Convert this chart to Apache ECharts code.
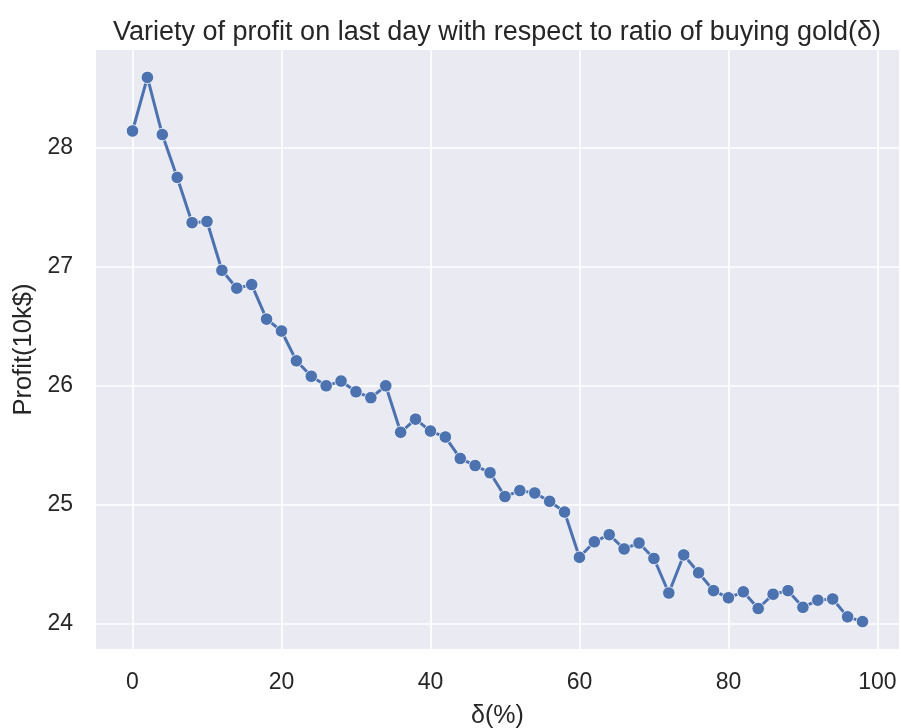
<!DOCTYPE html>
<html>
<head>
<meta charset="utf-8">
<script src="https://cdn.jsdelivr.net/npm/echarts@6/dist/echarts.min.js"></script>
<style>
  html, body { margin: 0; padding: 0; background: #fff; }
  #chart { width: 901px; height: 728px; }
</style>
</head>
<body>
<div id="chart"></div>
<script>
const deltaPct = [0, 2, 4, 6, 8, 10, 12, 14, 16, 18, 20, 22, 24, 26, 28, 30, 32, 34, 36, 38,
  40, 42, 44, 46, 48, 50, 52, 54, 56, 58, 60, 62, 64, 66, 68, 70, 72, 74, 76, 78,
  80, 82, 84, 86, 88, 90, 92, 94, 96, 98];
const profit = [28.14, 28.59, 28.11, 27.75, 27.37, 27.38, 26.97, 26.82, 26.85, 26.56,
  26.46, 26.21, 26.08, 26.00, 26.04, 25.95, 25.90, 26.00, 25.61, 25.72,
  25.62, 25.57, 25.39, 25.33, 25.27, 25.07, 25.12, 25.10, 25.03, 24.94,
  24.56, 24.69, 24.75, 24.63, 24.68, 24.55, 24.26, 24.58, 24.43, 24.28,
  24.22, 24.27, 24.13, 24.25, 24.28, 24.14, 24.20, 24.21, 24.06, 24.02];
const xTicks = [0, 20, 40, 60, 80, 100];
const yTicks = [24, 25, 26, 27, 28];

const FONT = "Liberation Sans, Arial, sans-serif";
const TEXT = "#262626";

const chart = echarts.init(document.getElementById("chart"));

chart.setOption({
  animation: false,
  backgroundColor: "#ffffff",
  title: {
    text: "Variety of profit on last day with respect to ratio of buying gold(δ)",
    left: 492, top: 14, textAlign: "center",
    textStyle: { fontFamily: FONT, fontSize: 27, fontWeight: "normal", color: TEXT }
  },
  grid: {
    left: 96, right: 2, top: 50, bottom: 79,
    outerBoundsMode: "none", containLabel: false,
    show: true, backgroundColor: "#EAEAF2", borderWidth: 0
  },
  xAxis: {
    type: "value",
    min: -4.9, max: 102.9,
    name: "δ(%)", nameLocation: "middle", nameGap: 55,
    nameTextStyle: { fontFamily: FONT, fontSize: 25, color: TEXT },
    axisLine: { show: false },
    axisTick: { show: false, customValues: xTicks },
    axisLabel: { customValues: xTicks, fontFamily: FONT, fontSize: 23, color: TEXT, margin: 22 },
    splitLine: { show: true, lineStyle: { color: "#ffffff", width: 1.6 } }
  },
  yAxis: {
    type: "value",
    min: 23.79, max: 28.82,
    name: "Profit(10k$)", nameLocation: "middle", nameGap: 59,
    nameTextStyle: { fontFamily: FONT, fontSize: 25.5, color: TEXT },
    axisLine: { show: false },
    axisTick: { show: false, customValues: yTicks },
    axisLabel: { customValues: yTicks, fontFamily: FONT, fontSize: 23, color: TEXT, margin: 23 },
    splitLine: { show: true, lineStyle: { color: "#ffffff", width: 1.6 } }
  },
  series: [{
    type: "line",
    data: deltaPct.map((d, i) => [d, profit[i]]),
    symbol: "circle",
    symbolSize: 12.5,
    lineStyle: { color: "#4C72B0", width: 3 },
    itemStyle: { color: "#4C72B0", borderColor: "#ffffff", borderWidth: 0.8 },
    emphasis: { disabled: true }
  }]
});
</script>
</body>
</html>
